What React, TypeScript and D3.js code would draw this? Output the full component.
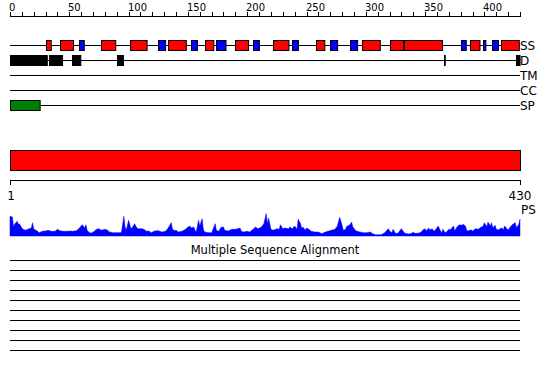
import React from "react";
import * as d3 from "d3";

const seqLength = 430;
const topTicks = d3.range(0, 431, 10);
const topLabels = [0, 50, 100, 150, 200, 250, 300, 350, 400];

const trackNames = ["SS", "D", "TM", "CC", "SP"];
const helices: [number, number][] = [[30,34],[42,53],[77,89],[101,115],[133,148],[164,171],[190,201],[222,235],[258,265],[297,312],[320,331],[332,364],[388,396],[414,429]];
const strands: [number, number][] = [[58,62],[125,131],[153,158],[174,182],[205,210],[238,243],[270,276],[287,293],[380,384],[399,401],[406,411]];
const disorder: [number, number][] = [[0,31],[33,44],[52,59],[90,95],[366,366.6],[427,430]];
const transmembrane: [number, number][] = [];
const coiledCoil: [number, number][] = [];
const signalPeptide: [number, number][] = [[0,25]];
const domains: [number, number][] = [[0,430]];

const psPos = [0,2,3,4,6,7,8,10,11,13,15,18,19,20,22,24,25,27,30,32,35,38,40,42,45,48,51,53,56,58,60,61,63,64,65,67,69,71,73,75,77,80,82,84,87,90,93,94,96,97,98,100,102,104,105,107,108,111,113,115,117,119,122,125,128,131,133,136,137,139,140,142,145,148,150,152,153,155,156,157,159,160,162,163,164,167,170,173,174,176,178,180,181,184,187,190,192,194,195,197,200,202,205,207,209,212,214,215,216,217,218,220,222,225,227,228,230,232,235,236,238,240,242,243,245,246,247,249,250,252,254,257,260,263,266,268,271,274,276,278,280,281,283,284,285,287,288,289,291,292,295,298,301,304,305,308,311,313,316,318,319,320,322,323,325,327,330,332,333,336,339,340,341,344,347,348,350,351,353,354,356,357,358,361,363,364,365,367,368,370,371,372,374,375,377,378,379,381,382,384,385,386,388,389,390,392,393,395,396,398,399,400,402,403,405,406,407,409,410,412,413,415,416,417,419,420,422,423,424,426,427,429,430];
const psVal = [19.7,19,9,12,14.7,12,12,8,6.7,5.7,6.7,8,13.3,7,5.7,4,3.3,4.7,5,5.7,4.7,4.7,6.7,5.3,4.7,4.7,5,4.7,5.3,7.3,10,11.3,8,11.3,5.7,3.3,3,4.7,6.7,7.3,5.7,6.7,6,4,3.3,3.3,3.3,4,19.7,9,5.7,15.7,7.3,10,12.3,8,7.3,7.3,6.7,4.7,5,3.3,5,5.3,4,4.7,7.3,13.3,6.7,5.3,5.7,4,4.7,6.7,9,9.7,8,9,5.7,4,15.7,10,17.3,6.7,4,3.3,3.3,12.3,5.7,4.7,8.7,9,5.7,5,6.7,6.7,7.3,8,4.7,4,4.7,4,6.7,9,7.3,9,12.3,17.3,22.3,12.3,18,6.7,5.7,7.3,6.7,11.3,7.3,8,7.3,9,7.3,10,6.7,16.7,12.3,7.3,9,5.7,8,6.7,4.7,4,4,2.3,4,4.7,5.7,6.7,10,18.7,10.7,5.7,6.7,10,10,11.7,14,9.3,6,5,4,3.3,3.3,4,2.7,1.3,1.3,1.3,3.3,6,7.3,5,3.3,6.7,2.7,2.7,7.3,4,2.7,2,2.7,4,2.7,2.7,4,6,7.3,5,8,6,7.3,5.3,5,10,5,3.3,6.7,3.3,4,6.7,6,7.3,10,5,9.3,10,11.3,10.7,11.7,10,6,5,6,6,5,6.7,7.3,6.7,8,9.3,10,13.3,9.3,14,10,13.3,8.3,10.7,6.7,6,7.3,8,6,10,7.3,6,9.3,10.7,11.7,13.3,8.3,11.7,16.7];

const alignmentRows = d3.range(10);

const FONT = "DejaVu Sans, sans-serif";

export default function App() {
  const x = d3.scaleLinear().domain([0, seqLength]).range([10, 520]);
  const trackY = d3.scaleOrdinal<string, number>().domain(trackNames).range([45.5, 60.5, 75.5, 90.5, 105.5]);
  const yPS = d3.scaleLinear().domain([0, 25]).range([236, 211]);
  const area = d3
    .area<number>()
    .x((_, i) => x(psPos[i]))
    .y0(yPS(0))
    .y1((d) => yPS(d))
    .curve(d3.curveLinear);
  const rowY = d3.scaleLinear().domain([0, 9]).range([260.5, 350.5]);

  const boxes = (segs: [number, number][], track: string, fill: string, key: string) =>
    segs.map(([s, e], i) => (
      <rect
        key={key + i}
        x={Math.round(x(s)) + 0.5}
        y={trackY(track) - 5}
        width={Math.max(0.5, x(e) - x(s))}
        height={10}
        fill={fill}
        stroke="#000"
        strokeWidth={1}
      />
    ));

  return (
    <svg width={550} height={380} style={{ display: "block", position: "absolute", left: 0, top: 0, background: "#fff" }} fontFamily={FONT}>
      <rect x={0} y={0} width={550} height={380} fill="#fff" />
      {/* top ruler */}
      <line x1={10} x2={521} y1={16.5} y2={16.5} stroke="#000" />
      {topTicks.map((t) => (
        <line key={"t" + t} x1={Math.round(x(t)) + 0.5} x2={Math.round(x(t)) + 0.5} y1={12} y2={16.5} stroke="#000" />
      ))}
      {topLabels.map((t) => (
        <text key={"l" + t} x={Math.round(x(t)) - 1} y={11} fontSize={10} fill="#000">
          {t}
        </text>
      ))}
      {/* tracks */}
      {trackNames.map((n) => (
        <g key={n}>
          <line x1={10} x2={520} y1={trackY(n)} y2={trackY(n)} stroke="#000" />
          <text x={520} y={trackY(n) + 4.5} fontSize={12} fill="#000">
            {n}
          </text>
        </g>
      ))}
      {boxes(helices, "SS", "#ff0000", "h")}
      {boxes(strands, "SS", "#0000ff", "s")}
      {boxes(disorder, "D", "#000000", "d")}
      {boxes(transmembrane, "TM", "#ffff00", "tm")}
      {boxes(coiledCoil, "CC", "#00ffff", "cc")}
      {boxes(signalPeptide, "SP", "#008000", "sp")}
      {/* domain bar */}
      {domains.map(([s, e], i) => (
        <rect key={"dom" + i} x={x(s) + 0.5} y={150.5} width={x(e) - x(s)} height={20} fill="#ff0000" stroke="#000" />
      ))}
      <line x1={10} x2={521} y1={180.5} y2={180.5} stroke="#000" />
      <line x1={10.5} x2={10.5} y1={180.5} y2={185} stroke="#000" />
      <line x1={520.5} x2={520.5} y1={180.5} y2={185} stroke="#000" />
      <text x={11} y={200} fontSize={12} textAnchor="middle" fill="#000">1</text>
      <text x={520} y={200} fontSize={12} textAnchor="middle" fill="#000">{seqLength}</text>
      <text x={521} y={214} fontSize={12} fill="#000">PS</text>
      {/* PS profile */}
      <path d={area(psVal) || ""} fill="#0000ff" stroke="#0000ff" strokeWidth={0.5} />
      {/* alignment */}
      <text x={275} y={254} fontSize={11.5} textAnchor="middle" fill="#000">Multiple Sequence Alignment</text>
      {alignmentRows.map((r) => (
        <line key={"r" + r} x1={10} x2={520} y1={rowY(r)} y2={rowY(r)} stroke="#000" />
      ))}
    </svg>
  );
}
